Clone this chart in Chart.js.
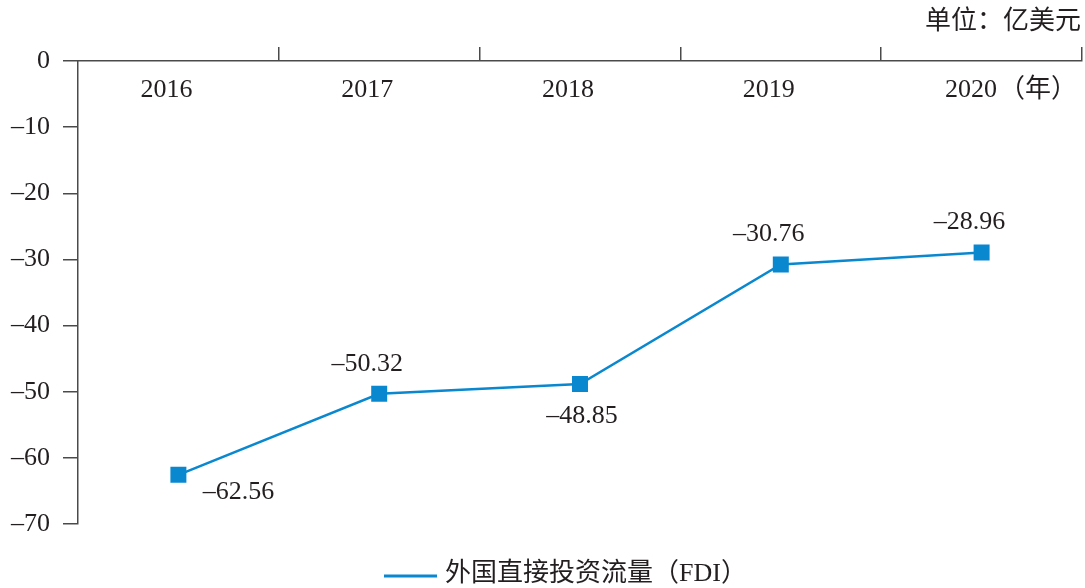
<!DOCTYPE html>
<html>
<head>
<meta charset="utf-8">
<script src="https://cdn.jsdelivr.net/npm/chart.js@4.4.1/dist/chart.umd.min.js"></script>
<style>
  html, body { margin: 0; padding: 0; background: #fff; overflow: hidden; }
  #wrap { width: 1085px; height: 588px; position: relative; }
</style>
</head>
<body>
<div id="wrap"><canvas id="fdi-chart"></canvas></div>
<script>
// data
var years = ['2016', '2017', '2018', '2019', '2020'];
var fdiValues = [-62.56, -50.32, -48.85, -30.76, -28.96];
var yTicks = [0, -10, -20, -30, -40, -50, -60, -70];
var labelSide = ['below-right', 'above', 'below', 'above', 'above'];

var seriesName = '外国直接投资流量（FDI）';
var unitText = '单位：亿美元';
var yearSuffix = '（年）';

var textColor = '#231f20';
var axisColor = '#4a4a4a';
var lineColor = '#0a88cf';
var fontFamily = '"Liberation Serif", "Noto Sans CJK SC", serif';

function dash(v) {
    return v < 0 ? '\u2013' + Math.abs(v) : String(v);
}

// draws year labels under the top axis, value labels, unit and legend
var extrasPlugin = {
    id: 'extras',
    afterDraw: function (chart) {
        var ctx = chart.ctx;
        var area = chart.chartArea;
        var xs = chart.scales.x;
        ctx.save();
        ctx.fillStyle = textColor;
        ctx.font = '26px ' + fontFamily;
        ctx.textBaseline = 'middle';

        // year labels
        years.forEach(function (y, i) {
            var x = xs.getPixelForValue(i);
            if (i === years.length - 1) {
                ctx.textAlign = 'right';
                var sw = ctx.measureText(yearSuffix).width;
                ctx.fillText(yearSuffix, chart.width - 8, area.top + 29);
                ctx.fillText(y, chart.width - 8 - sw - 2, area.top + 29);
            } else {
                ctx.textAlign = 'center';
                ctx.fillText(y, x - 12, area.top + 29);
            }
        });

        // value labels
        var meta = chart.getDatasetMeta(0);
        meta.data.forEach(function (pt, i) {
            var txt = dash(fdiValues[i]);
            var side = labelSide[i];
            ctx.textAlign = 'center';
            if (side === 'below-right') {
                ctx.fillText(txt, pt.x + 60, pt.y + 17);
            } else if (side === 'below') {
                ctx.fillText(txt, pt.x + 2, pt.y + 32);
            } else {
                ctx.fillText(txt, pt.x - 12, pt.y - 30);
            }
        });

        // unit
        ctx.textAlign = 'right';
        ctx.fillText(unitText, chart.width - 4, 22);

        // legend
        ctx.strokeStyle = lineColor;
        ctx.lineWidth = 3;
        ctx.beginPath();
        ctx.moveTo(384, 576);
        ctx.lineTo(437, 576);
        ctx.stroke();
        ctx.textAlign = 'left';
        ctx.fillText(seriesName, 445, 574);
        ctx.restore();
    }
};

var chart = new Chart(document.getElementById('fdi-chart'), {
    type: 'line',
    data: {
        labels: years,
        datasets: [{
            label: seriesName,
            data: fdiValues,
            borderColor: lineColor,
            backgroundColor: lineColor,
            borderWidth: 2.5,
            pointStyle: 'rect',
            pointRadius: 11.3,
            pointHoverRadius: 11.3,
            pointBorderWidth: 0,
            tension: 0
        }]
    },
    options: {
        responsive: true,
        maintainAspectRatio: false,
        animation: false,
        layout: { autoPadding: false, padding: { top: 47, bottom: 64, left: 0, right: 3 } },
        plugins: {
            legend: { display: false },
            tooltip: { enabled: false }
        },
        scales: {
            x: {
                position: 'top',
                offset: true,
                grid: {
                    offset: true,
                    drawOnChartArea: false,
                    tickLength: 14,
                    lineWidth: 1.5,
                    color: function (c) { return c.index === 0 ? 'rgba(0,0,0,0)' : axisColor; }
                },
                border: { color: axisColor, width: 1.5 },
                ticks: { display: false },
                afterFit: function (s) { s.height = 14; }
            },
            y: {
                min: -70,
                max: 0,
                afterBuildTicks: function (s) {
                    s.ticks = yTicks.map(function (v) { return { value: v }; });
                },
                grid: {
                    drawOnChartArea: false,
                    tickLength: 15,
                    lineWidth: 1.5,
                    color: axisColor
                },
                border: { color: axisColor, width: 1.5 },
                ticks: {
                    color: textColor,
                    padding: 13,
                    font: { family: fontFamily, size: 26 },
                    callback: function (v) { return dash(v); }
                },
                afterFit: function (s) { s.width = 78; }
            }
        }
    },
    plugins: [extrasPlugin]
});
</script>
</body>
</html>
